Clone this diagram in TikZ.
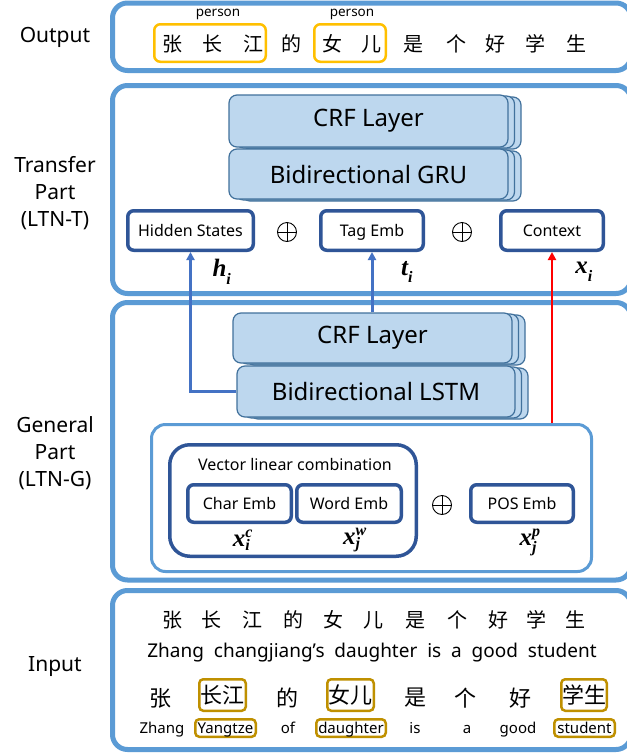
\documentclass[tikz,border=0pt]{standalone}
\usepackage{fontspec}
\setmainfont{Noto Sans}
\newfontfamily\cjk{Noto Sans CJK SC}
\newfontfamily\mfont{Liberation Serif}
\usetikzlibrary{arrows.meta}
\definecolor{panelblue}{HTML}{5B9BD5}
\definecolor{layerfill}{HTML}{BDD7EE}
\definecolor{layerdraw}{HTML}{41719C}
\definecolor{embblue}{HTML}{2F5597}
\definecolor{arrowblue}{HTML}{4472C4}
\definecolor{orangebox}{HTML}{FFC000}
\definecolor{goldbox}{HTML}{BF9000}
\newcommand\fs[1]{\fontsize{#1}{#1}\selectfont}
\newcommand\bvar[1]{\mbox{\mfont\bfseries\itshape\fs{25}#1}}
\newcommand\bidx[1]{\mbox{\mfont\bfseries\itshape\fs{16}#1}}
\newcommand\layerstack[6]{%
  \path[layer] ({#2-#4/2+13},{#3-#5/2+2}) rectangle ++(#4,#5);
  \path[layer] ({#2-#4/2+6.5},{#3-#5/2+1}) rectangle ++(#4,#5);
  \node[layer, minimum width=#4pt, minimum height=#5pt, font=\fs{24}] (#1) at (#2,#3) {#6};
}
\tikzset{
  panel/.style={draw=panelblue, line width=5pt, rounded corners=15pt},
  layer/.style={draw=layerdraw, fill=layerfill, line width=1.2pt, rounded corners=8pt, inner sep=0pt},
  emb/.style={draw=embblue, line width=3.5pt, rounded corners=6pt, fill=white, inner sep=0pt, minimum height=39.5pt, font=\fs{16}, text height=12pt, text depth=1pt},
  innerbox/.style={draw=panelblue, line width=3pt, rounded corners=14pt, inner sep=0pt},
  vlcbox/.style={draw=embblue, line width=3.5pt, rounded corners=20pt, inner sep=0pt},
  obox/.style={draw=orangebox, line width=2.5pt, rounded corners=6pt, inner sep=0pt},
  gbox/.style={draw=goldbox, line width=2.5pt, rounded corners=4pt, inner sep=0pt},
  sidelabel/.style={font=\fs{21}, align=center, inner sep=0pt},
  zh/.style={font=\cjk\fs{20}, inner sep=0pt},
  zhb/.style={font=\cjk\fs{22}, inner sep=0pt},
  en/.style={font=\fs{15}, inner sep=0pt, text height=11pt, text depth=1pt},
  mathlbl/.style={inner sep=0pt},
  oplus/.style={circle, draw=black, line width=0.9pt, minimum size=19pt, inner sep=0pt,
    path picture={\draw[line width=0.9pt] (path picture bounding box.north) -- (path picture bounding box.south)
      (path picture bounding box.west) -- (path picture bounding box.east);}},
  barrow/.style={draw=arrowblue, line width=3pt, -{Triangle[length=8pt,width=8pt]}},
  rarrow/.style={draw=red, line width=2.5pt, -{Triangle[length=8pt,width=8pt]}},
}
\begin{document}
\begin{tikzpicture}[x=1pt,y=-1pt]
\useasboundingbox (0,0) rectangle (627,756);
\fill[white] (0,0) rectangle (627,756);

% side labels
\node[sidelabel] (lout) at (55,37) {Output};
\node[sidelabel] (ltr) at (55,193) {Transfer\\[6pt]Part\\[6pt](LTN-T)};
\node[sidelabel] (lgen) at (55,453) {General\\[6pt]Part\\[6pt](LTN-G)};
\node[sidelabel] (lin) at (55,667) {Input};

% panels
\draw[panel] (112.5,3) rectangle (631,70.5);
\draw[panel] (112.5,85.5) rectangle (631,293.5);
\draw[panel] (112.5,302.5) rectangle (631,580);
\draw[panel] (112.5,590.5) rectangle (631,749.5);

% output
\node[obox, minimum width=111.5pt, minimum height=37.5pt] (ob1) at (210,43) {};
\node[obox, minimum width=71.5pt, minimum height=37.5pt] (ob2) at (350,43) {};
\node[font=\fs{13.5}, inner sep=0pt] (p1) at (218,14) {person};
\node[font=\fs{13.5}, inner sep=0pt] (p2) at (352,14) {person};
\foreach \x/\c [count=\i] in {172/张,212/长,253/江,291/的,332/女,371/儿,413/是,456/个,495/好,535/学,576/生}
  \node[zh] (o\i) at (\x,44) {\c};

% transfer part
\layerstack{crft}{368.5}{121}{279}{52}{CRF Layer}
\layerstack{gru}{368.5}{174}{279}{50}{Bidirectional GRU}
\node[emb, minimum width=125.5pt] (hid) at (190.5,230.5) {Hidden States};
\node[emb, minimum width=102.5pt] (tag) at (372,230.5) {Tag Emb};
\node[emb, minimum width=102.5pt] (ctx) at (552,230.5) {Context};
\node[oplus] (op1) at (287,232) {};
\node[oplus] (op2) at (462,232) {};
\node[mathlbl] (hl) at (222,272) {$\bvar{h}_{\bidx{i}}$};
\node[mathlbl] (tl) at (407,272) {$\bvar{t}_{\bidx{i}}$};
\node[mathlbl] (xl) at (584,272) {$\bvar{x}_{\bidx{i}}$};

% general part
\layerstack{crfg}{372.5}{338}{279}{50}{CRF Layer}
\layerstack{lstm}{376}{391.5}{278}{51}{Bidirectional LSTM}
\node[innerbox, minimum width=440pt, minimum height=147pt] (inner) at (371.5,498) {};
\node[vlcbox, minimum width=246.5pt, minimum height=111.5pt] (vlc) at (293,500.5) {};
\node[font=\fs{16}, inner sep=0pt] (vlct) at (295,464) {Vector linear combination};
\node[emb, minimum width=103.5pt, minimum height=37.5pt] (char) at (239.5,503.5) {Char Emb};
\node[emb, minimum width=104.5pt, minimum height=37.5pt] (word) at (349,503.5) {Word Emb};
\node[emb, minimum width=102.5pt, minimum height=37.5pt] (pos) at (522,503.5) {POS Emb};
\node[oplus] (op3) at (442,505) {};
\node[mathlbl] (xc) at (243,540) {$\bvar{x}_{\bidx{i}}^{\bidx{c}}$};
\node[mathlbl] (xw) at (355,540) {$\bvar{x}_{\bidx{j}}^{\bidx{w}}$};
\node[mathlbl] (xp) at (530,542) {$\bvar{x}_{\bidx{j}}^{\bidx{p}}$};

% connectors
\draw[barrow] (lstm.west) -| (hid.south);
\draw[barrow] (crfg.north -| tag.south) -- (tag.south);
\draw[rarrow] (inner.north -| ctx.south) -- (ctx.south);

% input
\foreach \x/\c [count=\i] in {172/张,211/长,252/江,293/的,333/女,373/儿,415/是,457/个,498/好,536/学,575/生}
  \node[zh] (i\i) at (\x,620) {\c};
\node[font=\fs{19}, inner sep=0pt] (ensent) at (372,653) {Zhang\ \ changjiang’s\ \ daughter\ \ is\ \ a\ \ good\ \ student};

\node[zhb] (w1) at (160,698) {张};
\node[gbox, zhb, minimum width=46.5pt, minimum height=31.5pt] (w2) at (222.5,695) {长江};
\node[zhb] (w3) at (287,698) {的};
\node[gbox, zhb, minimum width=46.5pt, minimum height=31.5pt] (w4) at (350.5,695) {女儿};
\node[zhb] (w5) at (415,698) {是};
\node[zhb] (w6) at (465,698) {个};
\node[zhb] (w7) at (520,698) {好};
\node[gbox, zhb, minimum width=45.5pt, minimum height=31.5pt] (w8) at (584,695) {学生};

\node[en] (e1) at (162,728) {Zhang};
\node[gbox, en, minimum width=60.5pt, minimum height=17.5pt] (e2) at (225.5,728) {Yangtze};
\node[en] (e3) at (288,728) {of};
\node[gbox, en, minimum width=69.5pt, minimum height=17.5pt] (e4) at (351,728) {daughter};
\node[en] (e5) at (415,728) {is};
\node[en] (e6) at (467,728) {a};
\node[en] (e7) at (518,728) {good};
\node[gbox, en, minimum width=60.5pt, minimum height=17.5pt] (e8) at (584.5,728) {student};
\end{tikzpicture}
\end{document}
